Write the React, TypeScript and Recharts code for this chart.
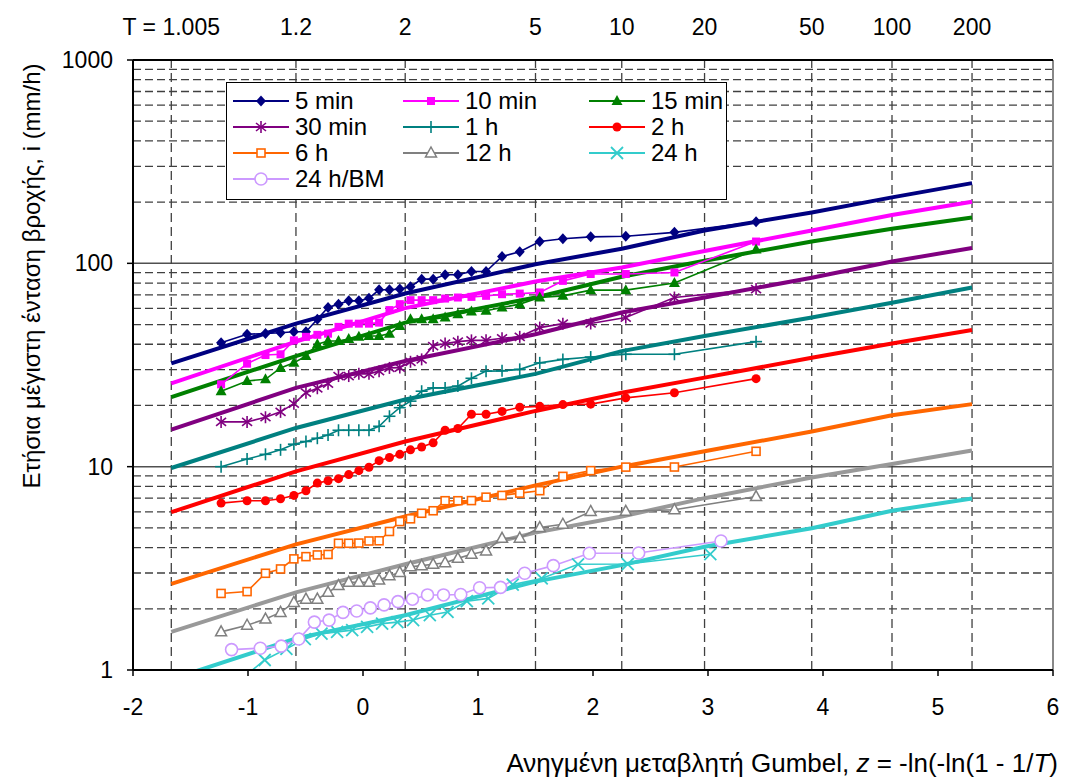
import React from 'react'
import { LineChart, Line, XAxis, YAxis, ReferenceLine, Legend } from 'recharts'

const FONT = "'Liberation Sans', Arial, sans-serif"

// Gumbel reduced variate of the plotted points (n = 30, 20, 22 years)
const zN30 = [-1.234, -1.008, -0.848, -0.717, -0.601, -0.496, -0.397, -0.304, -0.213, -0.124, -0.036, 0.052, 0.140, 0.230, 0.320,
  0.413, 0.510, 0.610, 0.714, 0.825, 0.943, 1.070, 1.209, 1.363, 1.537, 1.738, 1.980, 2.285, 2.708, 3.418]
const zN20 = [-1.113, -0.855, -0.666, -0.506, -0.361, -0.225, -0.094, 0.036, 0.166, 0.299, 0.436, 0.581, 0.735, 0.903, 1.089,
  1.302, 1.554, 1.870, 2.302, 3.020]
const zN22 = [-1.143, -0.893, -0.711, -0.559, -0.423, -0.295, -0.174, -0.055, 0.064, 0.183, 0.304, 0.430, 0.561, 0.700, 0.850,
  1.014, 1.196, 1.406, 1.655, 1.968, 2.397, 3.113]

// return periods on top axis and their z positions
const zFit = [-1.667, -0.583, 0.367, 1.5, 2.25, 2.97, 3.902, 4.6, 5.296]
const topLabels = ['T = 1.005', '1.2', '2', '5', '10', '20', '50', '100', '200']

// observed maxima (mm/h)
const i5min = [40.7, 44.8, 45.2, 45.6, 46.1, 46.1, 53.1, 60.6, 63.0, 65.4, 65.4, 67.4, 74.1, 74.1, 74.7, 76.7, 83.6, 83.6, 87.9, 87.9,
  91.2, 91.2, 108, 114, 128, 132, 135, 136, 142, 160]
const i10min = [25.4, 32.1, 35.4, 35.7, 41.8, 43.5, 44.5, 45.1, 48.7, 50.5, 50.5, 50.5, 51.1, 58.9, 63.0, 65.9, 65.9, 65.9, 67.1, 67.9,
  68.4, 69.2, 70.5, 71.0, 71.9, 82, 88.6, 88.6, 90.2, 128]
const i15min = [23.5, 26.4, 26.9, 30.6, 32.4, 35.0, 40.0, 41.5, 41.5, 42.4, 43.5, 43.9, 43.9, 45.1, 49.2, 53.1, 53.1, 53.1, 54.1, 56.2,
  57.9, 58.4, 60.6, 63.0, 67.9, 69.2, 73.8, 73.8, 80, 117]
const i30min = [16.6, 16.6, 17.5, 18.6, 20.4, 23.1, 24.3, 25.6, 27.9, 27.9, 28.6, 28.6, 29.5, 30.6, 30.7, 32.8, 33.7, 39.2, 40.3, 41.2,
  41.8, 41.8, 42.8, 43.5, 48.3, 50.5, 50.6, 54.1, 67.9, 74.7]
const i1h = [10.0, 10.9, 11.5, 12.1, 12.9, 13.3, 13.8, 14.3, 15.1, 15.1, 15.1, 15.1, 15.8, 17.7, 19.5, 21.0, 23.5, 24.4, 24.4, 24.9,
  27.2, 29.5, 29.6, 30.1, 32.4, 33.7, 34.6, 35.7, 35.7, 41.2]
const i2h = [6.62, 6.80, 6.80, 6.95, 7.22, 7.61, 8.30, 8.53, 8.73, 9.14, 9.56, 9.93, 10.7, 11.1, 11.5, 12.1, 12.5, 13.1, 15.1, 15.4,
  18.1, 18.1, 18.7, 19.6, 19.8, 20.2, 20.3, 21.8, 23.1, 27.1]
const i6h = [2.38, 2.43, 2.99, 3.14, 3.52, 3.61, 3.68, 3.70, 4.20, 4.20, 4.21, 4.31, 4.32, 4.80, 5.37, 5.54, 5.90, 6.07, 6.80, 6.80,
  6.81, 7.08, 7.22, 7.41, 7.62, 8.96, 9.56, 9.95, 9.96, 11.9]
const i12h = [1.54, 1.66, 1.78, 1.92, 2.15, 2.23, 2.23, 2.41, 2.60, 2.70, 2.70, 2.70, 2.77, 2.91, 3.02, 3.22, 3.26, 3.31, 3.37, 3.54,
  3.71, 3.85, 4.44, 4.45, 5.02, 5.21, 6.02, 6.03, 6.14, 7.13]
const i24h = [0.85, 1.12, 1.27, 1.42, 1.51, 1.54, 1.57, 1.63, 1.69, 1.72, 1.76, 1.86, 1.93, 2.18, 2.25, 2.63, 2.82, 3.31, 3.32, 3.71]
const i24hBM = [1.26, 1.28, 1.31, 1.42, 1.72, 1.76, 1.92, 1.95, 2.02, 2.09, 2.17, 2.23, 2.34, 2.34, 2.35, 2.54, 2.55, 2.99, 3.26, 3.75,
  3.76, 4.31]

// fitted distributions at the zFit positions
const f5min = [32.2, 50.5, 71.1, 99, 118, 145, 178, 211, 248]
const f10min = [25.7, 41.2, 60.2, 81.4, 95.4, 115, 145, 173, 201]
const f15min = [22.0, 35.0, 51.1, 67.9, 85.9, 103, 128, 148, 168]
const f30min = [15.2, 24.4, 33.1, 44.8, 57.3, 67.9, 85, 102, 119]
const f1h = [9.85, 15.5, 21.4, 28.6, 37.0, 43.9, 54.1, 64, 76]
const f2h = [5.97, 9.48, 13.3, 18.8, 23.1, 27.4, 34.3, 40.3, 47]
const f6h = [2.65, 4.15, 5.69, 8.09, 10.0, 11.9, 14.9, 17.9, 20.3]
const f12h = [1.54, 2.41, 3.31, 4.74, 5.69, 7.0, 8.85, 10.3, 12.0]
const f24h = [0.90, 1.43, 1.86, 2.72, 3.28, 4.04, 4.98, 6.07, 6.98]

const xTicks = [-2, -1, 0, 1, 2, 3, 4, 5, 6]
const yTicks = [1, 10, 100, 1000]
const yMajor = [10, 100]
const yMinor = [2, 3, 4, 5, 6, 7, 8, 9, 20, 30, 40, 50, 60, 70, 80, 90, 200, 300, 400, 500, 600, 700, 800, 900]

type Kind = 'diamond' | 'square' | 'triangle' | 'star' | 'plus' | 'circle' | 'hsquare' | 'htriangle' | 'cross' | 'hcircle'

const series: { name: string; color: string; fitColor: string; marker: Kind; z: number[]; obs: number[]; fit: number[] | null }[] = [
  { name: '5 min', color: '#000080', fitColor: '#000080', marker: 'diamond', z: zN30, obs: i5min, fit: f5min },
  { name: '10 min', color: '#FF00FF', fitColor: '#FF00FF', marker: 'square', z: zN30, obs: i10min, fit: f10min },
  { name: '15 min', color: '#008000', fitColor: '#008000', marker: 'triangle', z: zN30, obs: i15min, fit: f15min },
  { name: '30 min', color: '#800080', fitColor: '#800080', marker: 'star', z: zN30, obs: i30min, fit: f30min },
  { name: '1 h', color: '#008080', fitColor: '#008080', marker: 'plus', z: zN30, obs: i1h, fit: f1h },
  { name: '2 h', color: '#FF0000', fitColor: '#FF0000', marker: 'circle', z: zN30, obs: i2h, fit: f2h },
  { name: '6 h', color: '#FF6600', fitColor: '#FF6600', marker: 'hsquare', z: zN30, obs: i6h, fit: f6h },
  { name: '12 h', color: '#808080', fitColor: '#999999', marker: 'htriangle', z: zN30, obs: i12h, fit: f12h },
  { name: '24 h', color: '#33CCCC', fitColor: '#33CCCC', marker: 'cross', z: zN20, obs: i24h, fit: f24h },
  { name: '24 h/BM', color: '#CC99FF', fitColor: '#CC99FF', marker: 'hcircle', z: zN22, obs: i24hBM, fit: null },
]

function Marker({ kind, color, cx, cy }: { kind: Kind; color: string; cx: number; cy: number }) {
  if (cx == null || cy == null) return null
  switch (kind) {
    case 'diamond':
      return <polygon points={`${cx},${cy - 5.5} ${cx + 5},${cy} ${cx},${cy + 5.5} ${cx - 5},${cy}`} fill={color} />
    case 'square':
      return <rect x={cx - 4} y={cy - 4} width={8} height={8} fill={color} />
    case 'triangle':
      return <polygon points={`${cx},${cy - 6} ${cx + 5.5},${cy + 4} ${cx - 5.5},${cy + 4}`} fill={color} />
    case 'star':
      return (
        <g stroke={color} strokeWidth={1.6}>
          <line x1={cx} y1={cy - 6} x2={cx} y2={cy + 6} />
          <line x1={cx - 5} y1={cy - 4} x2={cx + 5} y2={cy + 4} />
          <line x1={cx - 5} y1={cy + 4} x2={cx + 5} y2={cy - 4} />
        </g>
      )
    case 'plus':
      return (
        <g stroke={color} strokeWidth={1.6}>
          <line x1={cx} y1={cy - 6} x2={cx} y2={cy + 6} />
          <line x1={cx - 6} y1={cy} x2={cx + 6} y2={cy} />
        </g>
      )
    case 'circle':
      return <circle cx={cx} cy={cy} r={4.5} fill={color} />
    case 'hsquare':
      return <rect x={cx - 4} y={cy - 4} width={8} height={8} fill="#fff" stroke={color} strokeWidth={1.6} />
    case 'htriangle':
      return <polygon points={`${cx},${cy - 6} ${cx + 5.5},${cy + 4} ${cx - 5.5},${cy + 4}`} fill="#fff" stroke={color} strokeWidth={1.5} />
    case 'cross':
      return (
        <g stroke={color} strokeWidth={1.8}>
          <line x1={cx - 6} y1={cy - 6} x2={cx + 6} y2={cy + 6} />
          <line x1={cx - 6} y1={cy + 6} x2={cx + 6} y2={cy - 6} />
        </g>
      )
    case 'hcircle':
      return <circle cx={cx} cy={cy} r={6} fill="#fff" stroke={color} strokeWidth={1.6} />
  }
  return null
}

function LegendBox() {
  return (
    <div
      style={{
        width: 501, height: 118, boxSizing: 'border-box', border: '1px solid #000', background: '#fff',
        display: 'grid', gridTemplateColumns: '170px 186px 140px', gridAutoRows: '26px',
        paddingTop: 5, paddingLeft: 5, fontFamily: FONT, fontSize: 24, color: '#000',
      }}
    >
      {series.map((s) => (
        <div key={s.name} style={{ display: 'flex', alignItems: 'center', whiteSpace: 'nowrap' }}>
          <svg width={58} height={20} style={{ overflow: 'visible' }}>
            <line x1={1} y1={10} x2={57} y2={10} stroke={s.color} strokeWidth={2} />
            <Marker kind={s.marker} color={s.color} cx={29} cy={10} />
          </svg>
          <span style={{ marginLeft: 5, lineHeight: '26px' }}>{s.name}</span>
        </div>
      ))}
    </div>
  )
}

const tickStyle = { fontSize: 23, fill: '#000', fontFamily: FONT }
const gridStroke = '#404040'

export default function App() {
  return (
    <div style={{ position: 'absolute', left: 0, top: 0, width: 1066, height: 782, background: '#fff' }}>
      <LineChart width={1066} height={782} margin={{ top: 10, right: 13, bottom: 52, left: 53 }}>
        <XAxis
          dataKey="z" type="number" domain={[-2, 6]} ticks={xTicks} allowDataOverflow
          tick={tickStyle} tickSize={6} tickMargin={23}
          axisLine={{ stroke: '#000', strokeWidth: 2 }} tickLine={{ stroke: '#000', strokeWidth: 1.5 }} height={60}
        />
        <XAxis
          xAxisId="top" orientation="top" dataKey="z" type="number" domain={[-2, 6]} ticks={zFit} allowDataOverflow
          tickFormatter={(v: any, i: number) => topLabels[i]} tick={tickStyle} tickLine={false} tickMargin={19}
          axisLine={{ stroke: '#000', strokeWidth: 2 }} height={50}
        />
        <YAxis
          scale="log" domain={[1, 1000]} ticks={yTicks} allowDataOverflow type="number"
          tick={tickStyle} tickSize={6} tickMargin={14} width={80}
          axisLine={{ stroke: '#000', strokeWidth: 2 }} tickLine={{ stroke: '#000', strokeWidth: 1.5 }}
        />
        {yMinor.map((v) => (
          <ReferenceLine key={`h${v}`} y={v} stroke={gridStroke} strokeWidth={1.3} strokeDasharray="8 4" />
        ))}
        {yMajor.map((v) => (
          <ReferenceLine key={`H${v}`} y={v} stroke="#505050" strokeWidth={1.5} />
        ))}
        {zFit.map((z) => (
          <ReferenceLine key={`v${z}`} x={z} stroke={gridStroke} strokeWidth={1.3} strokeDasharray="9 5" />
        ))}
        <ReferenceLine x={6} stroke="#888" strokeWidth={2} />

        {series.filter((s) => s.fit).map((s) => (
          <Line
            key={`fit-${s.name}`}
            data={zFit.map((z, i) => ({ z, v: (s.fit as number[])[i] }))}
            dataKey="v" stroke={s.fitColor} strokeWidth={4} dot={false} isAnimationActive={false} legendType="none"
          />
        ))}
        {series.map((s) => (
          <Line
            key={`obs-${s.name}`}
            data={s.z.map((z, i) => ({ z, v: s.obs[i] }))}
            dataKey="v" stroke={s.color} strokeWidth={1.6} isAnimationActive={false}
            dot={(p: any) => <Marker key={`${s.name}-${p.index}`} kind={s.marker} color={s.color} cx={p.cx} cy={p.cy} />}
          />
        ))}
        <Legend
          layout="horizontal" verticalAlign="middle" content={() => <LegendBox />}
          wrapperStyle={{ position: 'absolute', left: 226, top: 82, width: 501, height: 118 }}
        />
      </LineChart>
      <svg width={1066} height={782} style={{ position: 'absolute', left: 0, top: 0, pointerEvents: 'none' }}>
        <text
          transform="translate(31, 276) rotate(-90)" textAnchor="middle" dominantBaseline="central"
          fontFamily={FONT} fontSize={24} fill="#000"
        >
          Ετήσια μέγιστη ένταση βροχής, i (mm/h)
        </text>
        <text x={1058} y={772} textAnchor="end" fontFamily={FONT} fontSize={26} fill="#000">
          Ανηγμένη μεταβλητή Gumbel, <tspan fontStyle="italic">z</tspan> = -ln(-ln(1 - 1/<tspan fontStyle="italic">T</tspan>)
        </text>
      </svg>
    </div>
  )
}
